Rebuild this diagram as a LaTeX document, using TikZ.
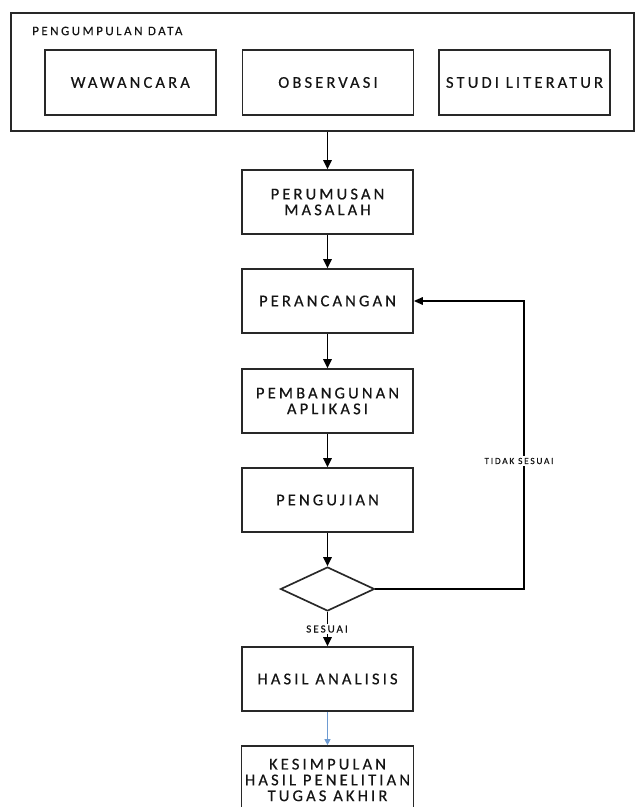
\documentclass[tikz,border=0pt]{standalone}
\usepackage{fontspec}
\usepackage{tikz}
\usetikzlibrary{positioning, arrows.meta, shapes.geometric}
\usepackage{xcolor}
\newfontfamily\flowfont{Carlito}[LetterSpace=19, FakeBold=0.4]
\definecolor{inkdark}{RGB}{20,20,20}
\definecolor{edgegray}{RGB}{40,40,40}
\definecolor{linkblue}{RGB}{110,155,210}

\begin{document}
\begin{tikzpicture}[x=0.02cm, y=-0.02cm,
    font=\flowfont\fontsize{9.4}{9}\selectfont, text=inkdark,
    stage/.style={rectangle, draw=edgegray, line width=0.95pt, fill=white,
                  minimum width=3.42cm, minimum height=1.28cm, inner sep=2pt,
                  align=center},
    source/.style={stage, minimum height=1.3cm},
    group/.style={rectangle, draw=edgegray, line width=0.95pt,
                  minimum width=12.46cm, minimum height=2.36cm, inner sep=0pt},
    check/.style={diamond, draw=edgegray, line width=0.95pt,
                  minimum width=1.88cm, minimum height=0.88cm, inner sep=0pt},
    tag/.style={fill=white, inner sep=1pt},
    flowarr/.style={-{Triangle[length=0.18cm, width=0.17cm]}, line width=0.95pt, color=black},
    backarr/.style={-{Triangle[length=0.18cm, width=0.15cm]}, line width=0.95pt, color=black},
    bluearr/.style={-{Triangle[length=0.12cm, width=0.12cm]}, line width=0.5pt, color=linkblue},
]
\useasboundingbox (0,0) rectangle (636,807);

% ─── Data collection group ───────────────────────────────────────
\node[group] (data) at (322.5, 72) {};
\node[font=\flowfont\fontsize{7.4}{8}\selectfont, anchor=west] (datalbl) at (26, 31) {PENGUMPULAN DATA};

\node[source] (wawancara) at (130.3, 82.5) {WAWANCARA};
\node[source] (observasi) at (328, 82.5) {OBSERVASI};
\node[source] (studi)     at (524.5, 82.5) {STUDI LITERATUR};

% ─── Main column ─────────────────────────────────────────────────
\node[stage] (perumusan)   at (327.5, 202) {PERUMUSAN\\MASALAH};
\node[stage] (perancangan) at (327.5, 301) {PERANCANGAN};
\node[stage] (pembangunan) at (327.5, 401) {PEMBANGUNAN\\APLIKASI};
\node[stage] (pengujian)   at (327.5, 500) {PENGUJIAN};
\node[check] (cek)         at (327.5, 589) {};
\node[stage] (hasil)       at (327.5, 679) {HASIL ANALISIS};
\node[stage, minimum height=1.36cm] (kesimpulan) at (327.5, 780)
     {KESIMPULAN\\HASIL PENELITIAN\\TUGAS AKHIR};

% ─── Edges ───────────────────────────────────────────────────────
\draw[flowarr] (data.south -| perumusan) -- (perumusan);
\draw[flowarr] (perumusan) -- (perancangan);
\draw[flowarr] (perancangan) -- (pembangunan);
\draw[flowarr] (pembangunan) -- (pengujian);
\draw[flowarr] (pengujian) -- (cek);
\draw[flowarr] (cek) -- (hasil);
\draw[bluearr] (hasil) -- (kesimpulan);

% not ok -> back to design
\coordinate (belok) at (524, 589);
\draw[backarr] (cek.east) -- (belok) |- (perancangan.east);

% labels sit on top of the lines
\node[tag, font=\flowfont\fontsize{5.3}{6}\selectfont] (tidak) at (519, 461) {TIDAK SESUAI};
\node[tag, font=\flowfont\fontsize{6.2}{7}\selectfont] (sesuai) at (327, 629) {SESUAI};

\end{tikzpicture}
\end{document}
